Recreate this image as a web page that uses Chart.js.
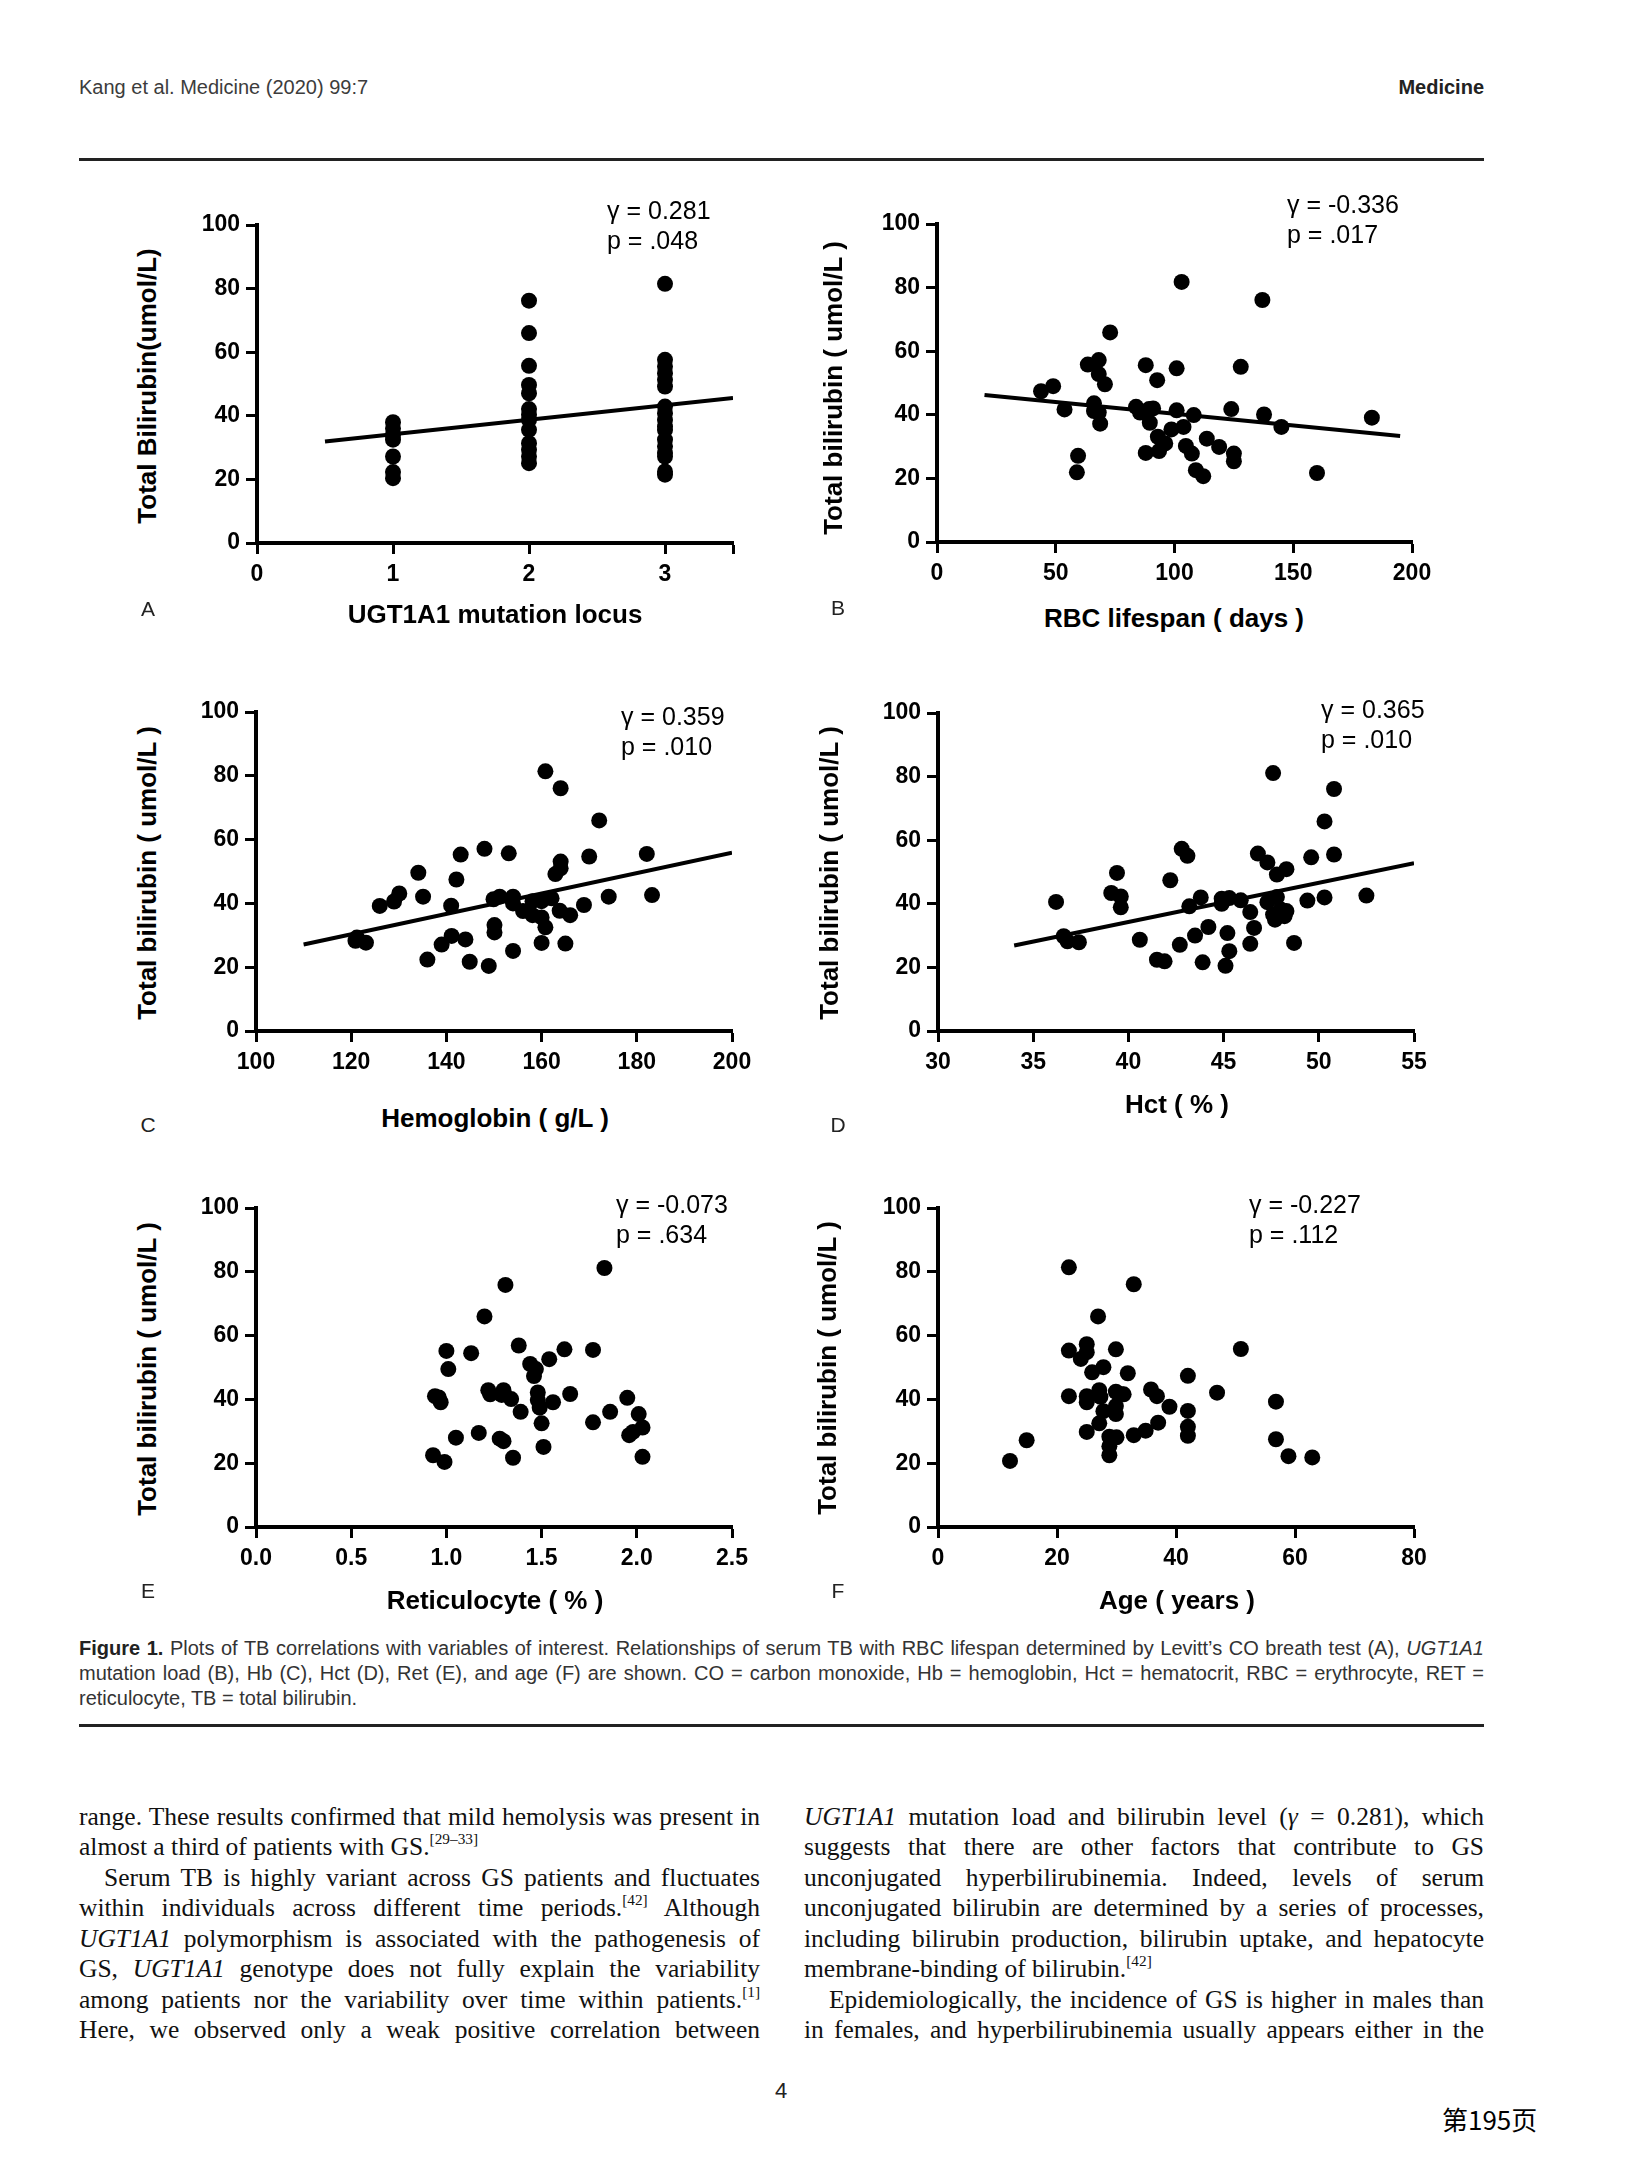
<!DOCTYPE html>
<html>
<head>
<meta charset="utf-8">
<script src="https://cdn.jsdelivr.net/npm/chart.js@4.4.1/dist/chart.umd.min.js"></script>
<style>
html, body { margin: 0; padding: 0; background: #fff; }
body { width: 1631px; height: 2173px; position: relative; overflow: hidden; font-family: "Liberation Sans", Arial, sans-serif; color: #000; }
canvas { position: absolute; }
.abs { position: absolute; white-space: nowrap; }
.ytitle { position: absolute; white-space: nowrap; font-weight: bold; font-size: 26px; transform: translate(-50%, -50%) rotate(-90deg); }
.xtitle { position: absolute; white-space: nowrap; font-weight: bold; font-size: 26px; transform: translate(-50%, -50%); }
.stat { position: absolute; white-space: nowrap; font-size: 25px; line-height: 30px; }
.letter { position: absolute; font-size: 21px; color: #222; transform: translate(-50%, -50%); }
.rule { position: absolute; left: 79px; width: 1405px; height: 3px; background: #222; }
.jl { position: absolute; white-space: nowrap; }
.cap { font-size: 20px; color: #333; line-height: 24px; }
.txt { font-family: "Liberation Serif", "DejaVu Serif", serif; font-size: 25.5px; line-height: 30px; color: #111; }
sup { font-size: 0.6em; line-height: 0; vertical-align: 0.75em; }
</style>
</head>
<body>

<div class="abs" style="left:79px; top:76px; font-size:20px; color:#3c3c3c;">Kang et al. Medicine (2020) 99:7</div>
<div class="abs" style="right:147px; top:76px; font-size:20px; font-weight:bold; color:#222;">Medicine</div>
<div class="rule" style="top:158px;"></div>

<canvas id="chA"></canvas>
<canvas id="chB"></canvas>
<canvas id="chC"></canvas>
<canvas id="chD"></canvas>
<canvas id="chE"></canvas>
<canvas id="chF"></canvas>

<div class="ytitle" style="left:147px; top:386px;">Total Bilirubin(umol/L)</div>
<div class="xtitle" style="left:495px; top:614px;">UGT1A1 mutation locus</div>
<div class="letter" style="left:148px; top:609px;">A</div>
<div class="stat" style="left:607px; top:195px;">γ = 0.281</div>
<div class="stat" style="left:607px; top:225px;">p = .048</div>

<div class="ytitle" style="left:833px; top:388px;">Total bilirubin ( umol/L )</div>
<div class="xtitle" style="left:1174px; top:618px;">RBC lifespan ( days )</div>
<div class="letter" style="left:838px; top:608px;">B</div>
<div class="stat" style="left:1287px; top:189px;">γ = -0.336</div>
<div class="stat" style="left:1287px; top:219px;">p = .017</div>

<div class="ytitle" style="left:147px; top:873px;">Total bilirubin ( umol/L )</div>
<div class="xtitle" style="left:495px; top:1118px;">Hemoglobin ( g/L )</div>
<div class="letter" style="left:148px; top:1125px;">C</div>
<div class="stat" style="left:621px; top:701px;">γ = 0.359</div>
<div class="stat" style="left:621px; top:731px;">p = .010</div>

<div class="ytitle" style="left:829px; top:873px;">Total bilirubin ( umol/L )</div>
<div class="xtitle" style="left:1177px; top:1104px;">Hct ( % )</div>
<div class="letter" style="left:838px; top:1125px;">D</div>
<div class="stat" style="left:1321px; top:694px;">γ = 0.365</div>
<div class="stat" style="left:1321px; top:724px;">p = .010</div>

<div class="ytitle" style="left:147px; top:1369px;">Total bilirubin ( umol/L )</div>
<div class="xtitle" style="left:495px; top:1600px;">Reticulocyte ( % )</div>
<div class="letter" style="left:148px; top:1591px;">E</div>
<div class="stat" style="left:616px; top:1189px;">γ = -0.073</div>
<div class="stat" style="left:616px; top:1219px;">p = .634</div>

<div class="ytitle" style="left:827px; top:1368px;">Total bilirubin ( umol/L )</div>
<div class="xtitle" style="left:1177px; top:1600px;">Age ( years )</div>
<div class="letter" style="left:838px; top:1591px;">F</div>
<div class="stat" style="left:1249px; top:1189px;">γ = -0.227</div>
<div class="stat" style="left:1249px; top:1219px;">p = .112</div>

<div class="jl cap" data-w="1405" style="left:79px; top:1636px;"><span><b style="color:#222">Figure 1.</b> Plots of TB correlations with variables of interest. Relationships of serum TB with RBC lifespan determined by Levitt’s CO breath test (A), <i>UGT1A1</i></span></div>
<div class="jl cap" data-w="1405" style="left:79px; top:1661px;"><span>mutation load (B), Hb (C), Hct (D), Ret (E), and age (F) are shown. CO = carbon monoxide, Hb = hemoglobin, Hct = hematocrit, RBC = erythrocyte, RET =</span></div>
<div class="jl cap" style="left:79px; top:1686px;"><span>reticulocyte, TB = total bilirubin.</span></div>
<div class="rule" style="top:1724px;"></div>

<div class="jl txt" data-w="681" style="left:79px; top:1802px;"><span>range. These results confirmed that mild hemolysis was present in</span></div>
<div class="jl txt" style="left:79px; top:1832px;"><span>almost a third of patients with GS.<sup>[29–33]</sup></span></div>
<div class="jl txt" data-w="656" style="left:104px; top:1863px;"><span>Serum TB is highly variant across GS patients and fluctuates</span></div>
<div class="jl txt" data-w="681" style="left:79px; top:1893px;"><span>within individuals across different time periods.<sup>[42]</sup> Although</span></div>
<div class="jl txt" data-w="681" style="left:79px; top:1924px;"><span><i>UGT1A1</i> polymorphism is associated with the pathogenesis of</span></div>
<div class="jl txt" data-w="681" style="left:79px; top:1954px;"><span>GS, <i>UGT1A1</i> genotype does not fully explain the variability</span></div>
<div class="jl txt" data-w="681" style="left:79px; top:1985px;"><span>among patients nor the variability over time within patients.<sup>[1]</sup></span></div>
<div class="jl txt" data-w="681" style="left:79px; top:2015px;"><span>Here, we observed only a weak positive correlation between</span></div>

<div class="jl txt" data-w="680" style="left:804px; top:1802px;"><span><i>UGT1A1</i> mutation load and bilirubin level (<i>γ</i> = 0.281), which</span></div>
<div class="jl txt" data-w="680" style="left:804px; top:1832px;"><span>suggests that there are other factors that contribute to GS</span></div>
<div class="jl txt" data-w="680" style="left:804px; top:1863px;"><span>unconjugated hyperbilirubinemia. Indeed, levels of serum</span></div>
<div class="jl txt" data-w="680" style="left:804px; top:1893px;"><span>unconjugated bilirubin are determined by a series of processes,</span></div>
<div class="jl txt" data-w="680" style="left:804px; top:1924px;"><span>including bilirubin production, bilirubin uptake, and hepatocyte</span></div>
<div class="jl txt" style="left:804px; top:1954px;"><span>membrane-binding of bilirubin.<sup>[42]</sup></span></div>
<div class="jl txt" data-w="655" style="left:829px; top:1985px;"><span>Epidemiologically, the incidence of GS is higher in males than</span></div>
<div class="jl txt" data-w="680" style="left:804px; top:2015px;"><span>in females, and hyperbilirubinemia usually appears either in the</span></div>

<div class="abs" style="left:775px; top:2078px; font-size:22px; color:#222;">4</div>
<div class="abs" style="left:1442px; top:2100px; font-size:26px; font-family:'Noto Sans CJK SC', sans-serif;">第195页</div>

<script>
'use strict'

// A: UGT1A1 mutation locus
const ugtLocus = [1, 1, 1, 1, 1, 1, 1,
  2, 2, 2, 2, 2, 2, 2, 2, 2, 2, 2, 2, 2,
  3, 3, 3, 3, 3, 3, 3, 3, 3, 3, 3, 3, 3, 3, 3, 3, 3];
const ugtTB = [38, 36, 34, 32.5, 27.2, 22.3, 20.4,
  76.2, 66, 55.7, 49.7, 47.1, 42.1, 40.3, 38.7, 35.6, 31.4, 29.3, 27.2, 25.1,
  81.5, 57.6, 55.5, 53.4, 51.3, 49.2, 42.9, 40.8, 38.7, 36.6, 35.5, 32.5, 30.4, 28.3, 27.2, 22.5, 21.5];
const ugtFit = [[0.5, 31.9], [3.5, 45.6]];

// B: RBC lifespan
const rbcDays = [43.8, 48.9, 53.7, 63.5, 68.1, 68.1, 70.7, 72.9, 66.1, 66.1,
  68.1, 68.7, 59.4, 58.9, 83.8, 85.5, 87.9, 89.3, 91.0, 89.6,
  92.7, 93.0, 87.9, 93.5, 96.1, 98.7, 100.9, 100.9, 103.0, 103.8,
  104.8, 107.3, 108.1, 109.0, 112.1, 113.6, 118.8, 123.9, 125.0, 125.0,
  127.9, 137.0, 137.7, 145.0, 160.0, 183.1];
const rbcTB = [47.4, 49.0, 41.7, 55.8, 57.2, 52.8, 49.6, 65.9, 43.6, 41.2,
  40.7, 37.2, 27.1, 21.9, 42.5, 40.7, 55.6, 41.8, 42.0, 37.5,
  50.9, 33.1, 28.0, 28.6, 31.0, 35.4, 54.6, 41.4, 81.8, 36.2,
  30.2, 27.8, 39.9, 22.6, 20.7, 32.5, 29.9, 41.8, 27.8, 25.4,
  55.1, 76.1, 40.1, 36.2, 21.7, 39.1];
const rbcFit = [[20, 46.2], [195, 33.3]];

// C: hemoglobin
const hbGL = [121.2, 120.9, 123.1, 126.0, 129.0, 130.1, 134.1, 135.1, 136.0, 139.0,
  141.0, 141.1, 142.1, 143.0, 144.0, 144.9, 148.0, 148.9, 149.9, 150.1,
  150.1, 151.2, 153.1, 154.0, 154.0, 154.0, 156.1, 158.1, 158.1, 160.0,
  160.0, 160.0, 160.8, 160.8, 162.1, 162.9, 164.0, 164.0, 164.0, 163.8,
  165.0, 166.0, 168.9, 170.0, 172.1, 174.1, 182.1, 183.2];
const hbTB = [29.3, 28.3, 27.7, 39.2, 40.6, 43.1, 49.6, 42.1, 22.4, 27.1,
  39.3, 29.8, 47.5, 55.3, 28.7, 21.7, 57.1, 20.4, 41.3, 33.2,
  30.9, 42.1, 55.7, 42.1, 40.0, 25.1, 37.6, 36.3, 40.7, 35.6,
  40.7, 27.6, 81.4, 32.5, 41.6, 49.2, 76.1, 53.1, 51.0, 37.7,
  27.4, 36.3, 39.5, 54.7, 66.0, 42.1, 55.5, 42.6];
const hbFit = [[110, 27.1], [200, 55.9]];

// D: hematocrit
const hctPct = [36.2, 36.6, 36.8, 37.4, 39.1, 39.4, 39.6, 39.6, 40.6, 41.5,
  41.9, 42.2, 42.7, 42.8, 43.1, 43.2, 43.5, 43.8, 43.9, 44.2,
  44.9, 44.9, 45.1, 45.2, 45.3, 45.3, 45.9, 46.4, 46.4, 46.6,
  46.8, 47.3, 47.3, 47.6, 47.6, 47.7, 47.8, 47.8, 48.0, 48.2,
  48.3, 48.3, 48.7, 49.4, 49.6, 50.3, 50.3, 50.8, 50.8, 52.5];
const hctTB = [40.6, 29.8, 28.2, 27.9, 43.4, 49.7, 42.3, 38.9, 28.7, 22.4,
  21.9, 47.4, 27.1, 57.3, 55.1, 39.2, 30.0, 42.0, 21.6, 32.7,
  40.0, 41.6, 20.5, 30.8, 41.8, 25.1, 41.1, 37.4, 27.4, 32.4,
  55.8, 53.0, 40.5, 81.1, 36.6, 35.0, 49.2, 42.1, 38.2, 36.1,
  50.9, 37.7, 27.7, 41.0, 54.6, 65.9, 42.0, 76.1, 55.5, 42.6];
const hctFit = [[34, 26.9], [55, 52.8]];

// E: reticulocyte
const retPct = [0.93, 0.94, 0.96, 0.97, 0.99, 1.00, 1.01, 1.05, 1.13, 1.17,
  1.20, 1.22, 1.23, 1.28, 1.29, 1.30, 1.30, 1.31, 1.34, 1.35,
  1.38, 1.39, 1.44, 1.46, 1.47, 1.48, 1.48, 1.49, 1.50, 1.51,
  1.54, 1.56, 1.62, 1.65, 1.77, 1.77, 1.83, 1.86, 1.95, 1.96,
  1.98, 2.01, 2.03, 2.03];
const retTB = [22.5, 41.0, 40.6, 39.1, 20.4, 55.2, 49.5, 28.0, 54.5, 29.5,
  66.0, 42.9, 41.6, 27.7, 41.4, 42.9, 26.9, 75.9, 40.1, 21.7,
  56.9, 36.1, 51.1, 47.3, 49.5, 42.2, 39.8, 37.4, 32.5, 25.1,
  52.6, 39.1, 55.7, 41.7, 55.5, 32.8, 81.2, 36.1, 40.5, 28.8,
  29.8, 35.4, 31.2, 22.0];

// F: age
const ageYears = [12.1, 14.9, 22.0, 22.0, 22.0, 24.0, 25.0, 25.0, 25.0, 25.0,
  25.0, 25.9, 26.9, 27.1, 27.1, 27.3, 27.8, 27.8, 28.8, 28.8,
  28.8, 29.9, 29.9, 29.9, 29.9, 30.0, 30.8, 31.2, 31.9, 32.9,
  32.9, 34.9, 35.8, 36.8, 37.0, 38.9, 42.0, 42.0, 42.0, 42.0,
  46.9, 50.9, 56.8, 56.8, 58.9, 62.9];
const ageTB = [20.7, 27.2, 81.4, 55.3, 41.0, 52.7, 57.3, 54.8, 41.0, 39.1,
  29.8, 48.5, 66.0, 42.9, 32.5, 40.8, 50.1, 36.3, 28.3, 25.3,
  22.5, 55.7, 42.4, 37.9, 35.4, 28.1, 41.6, 41.6, 48.2, 76.1,
  28.8, 30.2, 43.1, 41.0, 32.7, 37.7, 47.4, 36.4, 31.4, 28.6,
  42.1, 55.8, 39.3, 27.5, 22.2, 21.8];

const tbTicks = [0, 20, 40, 60, 80, 100];

const tickFont = { family: 'Liberation Sans', size: 23, weight: 'bold' };

// 1枚ずつ散布図を作る  box = 描画領域 [left, top, right, bottom]
function makePanel(id, box, xs, ys, fit, xMin, xMax, xStep, fmt) {
  const cv = document.getElementById(id);
  const L = box[0], T = box[1], R = box[2], B = box[3];
  cv.style.left = (L - 90) + 'px';
  cv.style.top = (T - 20) + 'px';
  cv.width = R - L + 120;
  cv.height = B - T + 80;

  const datasets = [{
    data: xs.map((x, i) => ({ x: x, y: ys[i] })),
    pointRadius: 8,
    pointHoverRadius: 8,
    backgroundColor: '#000',
    borderColor: '#000',
    borderWidth: 0,
    showLine: false,
  }];
  if (fit) {
    datasets.push({
      data: fit.map(p => ({ x: p[0], y: p[1] })),
      showLine: true,
      borderColor: '#000',
      borderWidth: 4,
      pointRadius: 0,
      fill: false,
    });
  }

  const axisGrid = { display: true, drawOnChartArea: false, drawTicks: true, tickLength: 11, tickWidth: 3, tickColor: '#000', color: '#000' };
  const axisBorder = { display: true, color: '#000', width: 4 };

  new Chart(cv, {
    type: 'scatter',
    data: { datasets: datasets },
    options: {
      responsive: false,
      animation: false,
      devicePixelRatio: 1,
      layout: { padding: { top: 20, right: 30, left: 0, bottom: 0 } },
      plugins: { legend: { display: false }, tooltip: { enabled: false } },
      scales: {
        x: {
          type: 'linear',
          min: xMin,
          max: xMax,
          afterFit: s => { s.height = 60; },
          border: axisBorder,
          grid: axisGrid,
          ticks: {
            stepSize: xStep,
            autoSkip: false,
            maxRotation: 0,
            padding: 7,
            color: '#000',
            font: tickFont,
            callback: fmt,
          },
        },
        y: {
          type: 'linear',
          min: 0,
          max: 100,
          afterFit: s => { s.width = 90; },
          afterBuildTicks: s => { s.ticks = tbTicks.map(v => ({ value: v })); },
          border: axisBorder,
          grid: axisGrid,
          ticks: { padding: 6, color: '#000', font: tickFont },
        },
      },
    },
  });
}

const intFmt = v => (Number.isInteger(v) ? String(v) : '');

makePanel('chA', [257, 225, 733, 543], ugtLocus, ugtTB, ugtFit, 0, 3.5, 1, intFmt);
makePanel('chB', [937, 224, 1412, 542], rbcDays, rbcTB, rbcFit, 0, 200, 50, intFmt);
makePanel('chC', [256, 712, 732, 1031], hbGL, hbTB, hbFit, 100, 200, 20, intFmt);
makePanel('chD', [938, 713, 1414, 1031], hctPct, hctTB, hctFit, 30, 55, 5, intFmt);
makePanel('chE', [256, 1208, 732, 1527], retPct, retTB, null, 0, 2.5, 0.5, v => v.toFixed(1));
makePanel('chF', [938, 1208, 1414, 1527], ageYears, ageTB, null, 0, 80, 20, intFmt);

// 行ごとに両端揃え
document.querySelectorAll('.jl').forEach(el => {
  if (!el.dataset.w) return;
  const span = el.firstElementChild;
  const natural = span.getBoundingClientRect().width;
  const spaces = (span.textContent.match(/ /g) || []).length;
  if (spaces) span.style.wordSpacing = ((parseFloat(el.dataset.w) - natural) / spaces) + 'px';
});
</script>
</body>
</html>
